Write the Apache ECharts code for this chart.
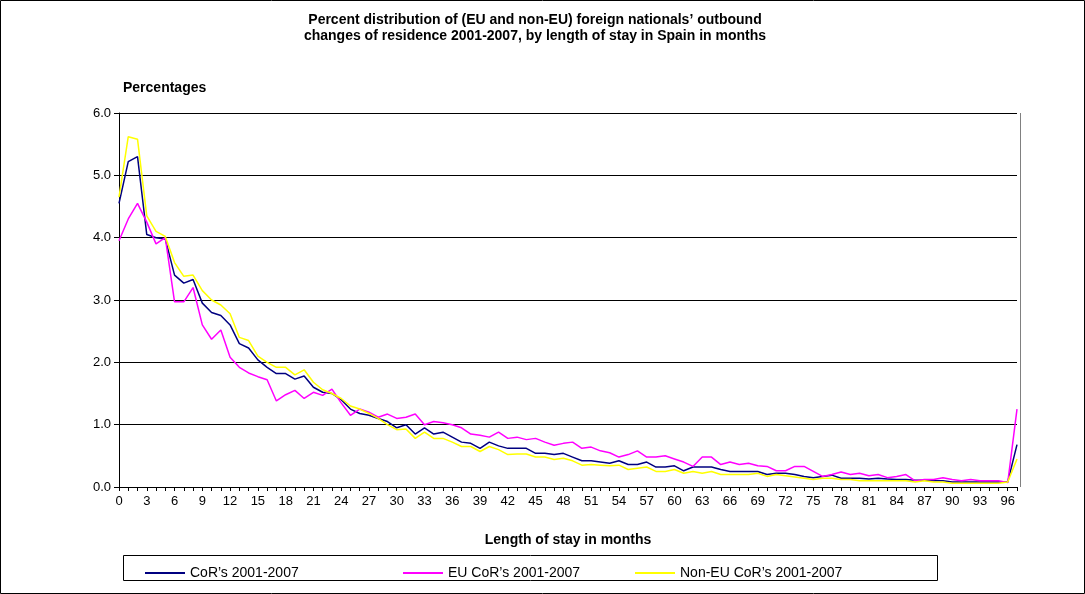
<!DOCTYPE html>
<html>
<head>
<meta charset="utf-8">
<script src="https://cdn.jsdelivr.net/npm/echarts@6/dist/echarts.min.js"></script>
<style>
  html, body { margin: 0; padding: 0; background: #fff; }
  #chart { width: 1085px; height: 594px; }
</style>
</head>
<body>
<div id="chart"></div>
<script>
// months 0..97
const months = [];
for (let i = 0; i <= 97; i++) months.push(String(i));

const corAll = [4.55, 5.22, 5.3, 4.05, 4.0, 3.98, 3.4, 3.27, 3.33, 2.95, 2.8, 2.75, 2.6, 2.3, 2.23, 2.04, 1.92, 1.82, 1.82, 1.73,
  1.78, 1.6, 1.52, 1.5, 1.4, 1.25, 1.18, 1.15, 1.1, 1.05, 0.95, 1.0, 0.85, 0.95, 0.85, 0.88, 0.8, 0.72, 0.7, 0.62,
  0.72, 0.66, 0.62, 0.62, 0.62, 0.54, 0.54, 0.52, 0.54, 0.48, 0.42, 0.42, 0.4, 0.38, 0.42, 0.36, 0.36, 0.4, 0.32, 0.32,
  0.34, 0.26, 0.32, 0.32, 0.32, 0.28, 0.25, 0.25, 0.25, 0.25, 0.2, 0.22, 0.22, 0.2, 0.17, 0.15, 0.17, 0.19, 0.14, 0.14,
  0.14, 0.13, 0.14, 0.13, 0.12, 0.12, 0.11, 0.11, 0.1, 0.1, 0.08, 0.08, 0.08, 0.08, 0.08, 0.08, 0.08, 0.68];

const corEU = [3.95, 4.3, 4.55, 4.25, 3.9, 4.0, 2.97, 2.97, 3.2, 2.6, 2.37, 2.52, 2.08, 1.92, 1.83, 1.77, 1.72, 1.38, 1.48, 1.55,
  1.42, 1.52, 1.47, 1.57, 1.35, 1.15, 1.25, 1.2, 1.12, 1.17, 1.1, 1.12, 1.17, 1.0, 1.05, 1.03, 1.0, 0.95, 0.85, 0.83,
  0.8, 0.88, 0.78, 0.8, 0.76, 0.78, 0.72, 0.67, 0.7, 0.72, 0.62, 0.64, 0.58, 0.55, 0.48, 0.52, 0.58, 0.48, 0.48, 0.5,
  0.45, 0.4, 0.33, 0.48, 0.48, 0.36, 0.4, 0.36, 0.38, 0.34, 0.33, 0.26, 0.26, 0.33, 0.33, 0.25, 0.17, 0.2, 0.24, 0.2,
  0.22, 0.18, 0.2, 0.15, 0.17, 0.2, 0.1, 0.12, 0.12, 0.15, 0.12, 0.1, 0.12, 0.1, 0.1, 0.1, 0.07, 1.25];

const corNonEU = [4.65, 5.62, 5.58, 4.35, 4.1, 4.02, 3.6, 3.38, 3.4, 3.15, 3.0, 2.92, 2.78, 2.4, 2.35, 2.1, 2.0, 1.92, 1.92, 1.8,
  1.88, 1.68, 1.56, 1.5, 1.42, 1.3, 1.25, 1.18, 1.1, 1.0, 0.92, 0.93, 0.78, 0.88, 0.78, 0.78, 0.72, 0.65, 0.65, 0.57,
  0.65, 0.6, 0.52, 0.53, 0.53, 0.48, 0.48, 0.44, 0.46, 0.42, 0.35, 0.36, 0.35, 0.34, 0.35, 0.28, 0.3, 0.32, 0.25, 0.25,
  0.28, 0.22, 0.25, 0.22, 0.25, 0.2, 0.2, 0.2, 0.2, 0.22, 0.17, 0.2, 0.18, 0.16, 0.14, 0.12, 0.14, 0.14, 0.12, 0.12,
  0.1, 0.1, 0.1, 0.1, 0.1, 0.1, 0.08, 0.1, 0.08, 0.08, 0.06, 0.06, 0.06, 0.06, 0.06, 0.06, 0.08, 0.45];

const seriesNames = ['CoR\u2019s 2001-2007', 'EU CoR\u2019s 2001-2007', 'Non-EU CoR\u2019s 2001-2007'];
const seriesColors = ['#000080', '#ff00ff', '#ffff00'];
const legendLeft = [140, 398, 630];

const chart = echarts.init(document.getElementById('chart'));
const font = 'Arial, "Liberation Sans", sans-serif';

function line(name, data, color) {
  return { name, type: 'line', data, symbol: 'none', lineStyle: { color, width: 1.5 }, itemStyle: { color } };
}

chart.setOption({
  animation: false,
  textStyle: { fontFamily: font },
  title: {
    text: 'Percent distribution of (EU and non-EU) foreign nationals\u2019 outbound\nchanges of residence 2001-2007, by length of stay in Spain in months',
    left: 530, top: 7, textAlign: 'center',
    textStyle: { fontSize: 14, fontWeight: 'bold', color: '#000', lineHeight: 16, fontFamily: font }
  },
  graphic: [
    { type: 'rect', shape: { x: 0.5, y: 0.5, width: 1084, height: 593 }, style: { fill: 'none', stroke: '#000', lineWidth: 1 } },
    { type: 'rect', shape: { x: 123.5, y: 555.5, width: 814, height: 25 }, style: { fill: 'none', stroke: '#000', lineWidth: 1 } },
    { type: 'line', shape: { x1: 1020.5, y1: 113, x2: 1020.5, y2: 487 }, style: { stroke: '#808080', lineWidth: 1 } },
    { type: 'text', left: 123, top: 81, style: { text: 'Percentages', font: 'bold 14px ' + font, fill: '#000' } }
  ],
  legend: seriesNames.map((n, i) => ({
    data: [n], left: legendLeft[i], top: 561, itemWidth: 40, itemHeight: 2, icon: 'rect',
    textStyle: { fontSize: 14, color: '#000' }
  })),
  grid: { left: 119, right: 68, top: 113, bottom: 107 },
  xAxis: {
    type: 'category', data: months, boundaryGap: false,
    name: 'Length of stay in months', nameLocation: 'middle', nameGap: 46,
    nameTextStyle: { fontSize: 14, fontWeight: 'bold', color: '#000' },
    axisLine: { lineStyle: { color: '#000' } },
    axisTick: { interval: 0, lineStyle: { color: '#000' }, length: 4 },
    axisLabel: { interval: 2, color: '#000', fontSize: 13, margin: 8 },
    splitLine: { show: false }
  },
  yAxis: {
    type: 'value', min: 0, max: 6, interval: 1,
    axisLine: { show: true, lineStyle: { color: '#000' } },
    axisTick: { show: true, lineStyle: { color: '#000' } },
    axisLabel: { color: '#000', fontSize: 13, formatter: v => v.toFixed(1) },
    splitLine: { lineStyle: { color: '#000', width: 1 } }
  },
  series: [
    line(seriesNames[0], corAll, seriesColors[0]),
    line(seriesNames[1], corEU, seriesColors[1]),
    line(seriesNames[2], corNonEU, seriesColors[2])
  ]
});
</script>
</body>
</html>
